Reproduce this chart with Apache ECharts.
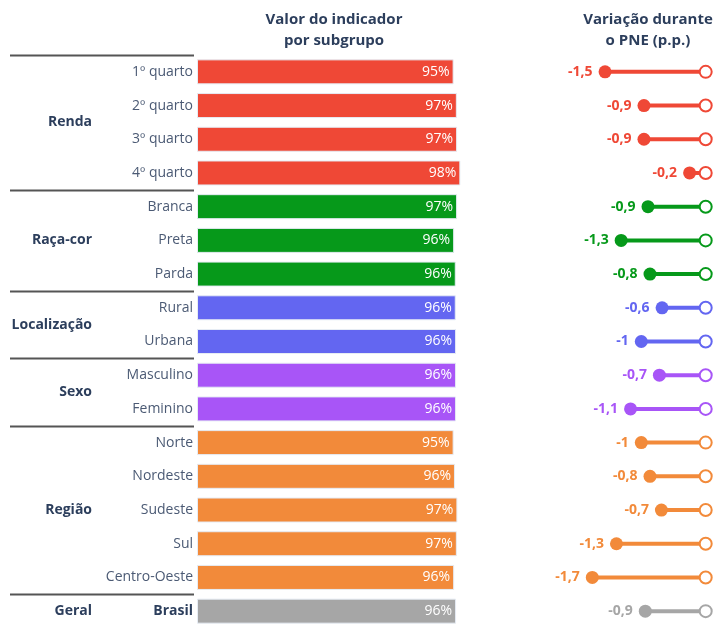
<!DOCTYPE html>
<html>
<head>
<meta charset="utf-8">
<script src="https://cdn.jsdelivr.net/npm/echarts@6/dist/echarts.min.js"></script>
<style>
  html, body { margin: 0; padding: 0; background: #fff; }
  #box { width: 721px; height: 625px; }
</style>
</head>
<body>
<div id="box"></div>
<script>
// dados
var subgrupos = ['1º quarto', '2º quarto', '3º quarto', '4º quarto',
    'Branca', 'Preta', 'Parda',
    'Rural', 'Urbana',
    'Masculino', 'Feminino',
    'Norte', 'Nordeste', 'Sudeste', 'Sul', 'Centro-Oeste',
    'Brasil'];
var grupos = ['Renda', 'Raça-cor', 'Localização', 'Sexo', 'Região', 'Geral'];
var tamanhoGrupo = [4, 3, 2, 2, 5, 1];
var coresGrupo = ['#ef4836', '#06991a', '#6366f1', '#a855f7', '#f28a3a', '#a6a6a6'];
var valorIndicador = [95.4, 96.6, 96.7, 97.9, 96.7, 95.6, 96.2, 96.2, 96.3, 96.3, 96.3, 95.4, 95.9, 96.8, 96.6, 95.6, 96.3];
var variacaoPNE = [-1.5, -0.92, -0.92, -0.24, -0.86, -1.26, -0.83, -0.65, -0.96, -0.69, -1.12, -0.96, -0.83, -0.66, -1.33, -1.69, -0.9];
var zeros = subgrupos.map(function () { return 0; });

// cor de cada linha
var cores = [];
grupos.forEach(function (g, i) {
    for (var k = 0; k < tamanhoGrupo[i]; k++) cores.push(coresGrupo[i]);
});

var navy = '#2c3e5c';
var fonte = '"Open Sans", sans-serif';

function fmtVar(v) {
    var r = Math.round(v * 10) / 10;
    return String(r).replace('.', ',');
}

var myChart = echarts.init(document.getElementById('box'));
var option = {
    animation: false,
    textStyle: { fontFamily: fonte },
    grid: [
        { left: 197, width: 269, top: 55, height: 573, outerBoundsMode: 'none' },
        { left: 571.5, width: 134.2, top: 55, height: 573, outerBoundsMode: 'none' }
    ],
    xAxis: [
        { gridIndex: 0, type: 'value', min: 0, max: 100, show: false },
        { gridIndex: 1, type: 'value', min: -2, max: 0, show: false }
    ],
    yAxis: [
        {
            gridIndex: 0, type: 'category', inverse: true, data: subgrupos,
            axisLine: { show: false }, axisTick: { show: false },
            axisLabel: {
                margin: 4, fontSize: 14, color: '#4b5a74', fontFamily: fonte,
                formatter: function (v) { return v === 'Brasil' ? '{b|' + v + '}' : v; },
                rich: { b: { fontWeight: 'bold', color: navy, fontSize: 14, fontFamily: fonte } }
            }
        },
        {
            gridIndex: 1, type: 'category', inverse: true, data: subgrupos,
            show: false
        }
    ],
    series: [
        {
            type: 'bar', xAxisIndex: 0, yAxisIndex: 0,
            barWidth: 25,
            data: valorIndicador.map(function (v, i) {
                return { value: v, itemStyle: { color: cores[i] } };
            }),
            itemStyle: { borderColor: '#e6ecf4', borderWidth: 1 },
            label: {
                show: true, position: 'insideRight', distance: 4,
                color: '#fff', fontSize: 14, fontFamily: fonte,
                formatter: function (p) { return Math.round(p.value) + '%'; }
            }
        },
        // haste
        {
            type: 'bar', xAxisIndex: 1, yAxisIndex: 1,
            barWidth: 4,
            data: variacaoPNE.map(function (v, i) {
                return { value: v, itemStyle: { color: cores[i] } };
            })
        },
        // ponto de 0
        {
            type: 'scatter', xAxisIndex: 1, yAxisIndex: 1,
            symbolSize: 12,
            data: zeros.map(function (v, i) {
                return { value: [v, subgrupos[i]], itemStyle: { color: '#fff', borderColor: cores[i], borderWidth: 2, opacity: 1 } };
            })
        },
        // ponto da variação
        {
            type: 'scatter', xAxisIndex: 1, yAxisIndex: 1,
            symbolSize: 13,
            data: variacaoPNE.map(function (v, i) {
                return {
                    value: [v, subgrupos[i]],
                    itemStyle: { color: cores[i], opacity: 1 },
                    label: { color: cores[i] }
                };
            }),
            label: {
                show: true, position: 'left', distance: 6,
                fontSize: 14, fontWeight: 'bold', fontFamily: fonte,
                formatter: function (p) { return fmtVar(p.value[0]); }
            },
            z: 3
        }
    ]
};
myChart.setOption(option);

// títulos, linhas separadoras e rótulos dos grupos
var graficos = [
    {
        type: 'text', x: 334, y: 30,
        style: {
            text: 'Valor do indicador\npor subgrupo', align: 'center', verticalAlign: 'middle',
            font: 'bold 15px ' + fonte, fill: navy, lineHeight: 21
        }
    },
    {
        type: 'text', x: 648, y: 30,
        style: {
            text: 'Variação durante\no PNE (p.p.)', align: 'center', verticalAlign: 'middle',
            font: 'bold 15px ' + fonte, fill: navy, lineHeight: 21
        }
    }
];
var inicio = 0;
grupos.forEach(function (g, i) {
    var fim = inicio + tamanhoGrupo[i] - 1;
    var y0 = myChart.convertToPixel({ yAxisIndex: 0 }, subgrupos[inicio]);
    var y1 = myChart.convertToPixel({ yAxisIndex: 0 }, subgrupos[fim]);
    var passo = myChart.convertToPixel({ yAxisIndex: 0 }, subgrupos[1]) - myChart.convertToPixel({ yAxisIndex: 0 }, subgrupos[0]);
    var yLinha = Math.round(y0 - passo / 2) + 0.5;
    graficos.push({
        type: 'line',
        shape: { x1: 10, y1: yLinha, x2: 194, y2: yLinha },
        style: { stroke: '#555', lineWidth: 2 }
    });
    graficos.push({
        type: 'text', x: 92, y: (y0 + y1) / 2,
        style: {
            text: g, align: 'right', verticalAlign: 'middle',
            font: 'bold 14px ' + fonte, fill: navy
        }
    });
    inicio = fim + 1;
});
myChart.setOption({ graphic: graficos });
</script>
</body>
</html>
